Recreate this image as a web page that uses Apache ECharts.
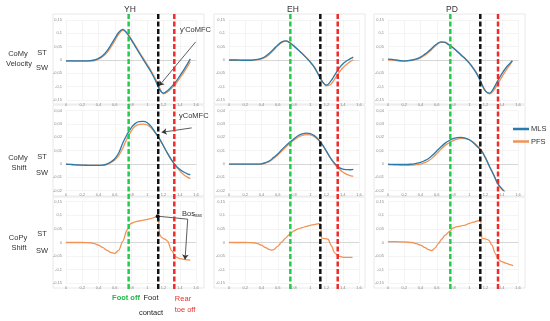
<!DOCTYPE html>
<html><head><meta charset="utf-8">
<script src="https://cdn.jsdelivr.net/npm/echarts@6/dist/echarts.min.js"></script>
<style>html,body{margin:0;padding:0;background:#fff}#c{width:550px;height:321px}</style>
</head><body><div id="c"></div>
<script>
// ---- data ----
const columns = ['YH', 'EH', 'PD'];
const rowNames = [['CoMy', 'Velocity'], ['CoMy', 'Shift'], ['CoPy', 'Shift']];
const xTicks = [0, 0.2, 0.4, 0.6, 0.8, 1, 1.2, 1.4, 1.6];

const tVel = [0,0.05,0.1,0.15,0.2,0.25,0.3,0.35,0.4,0.45,0.5,0.55,0.6,0.65,0.7,0.75,0.8,0.85,0.9,0.95,1.0,1.05,1.1,1.15,1.2,1.25,1.3,1.35,1.4,1.45,1.5,1.53];
const tPDShift = [0,0.05,0.1,0.15,0.2,0.25,0.3,0.35,0.4,0.45,0.5,0.55,0.6,0.65,0.7,0.75,0.8,0.85,0.9,0.95,1.0,1.05,1.1,1.15,1.2,1.25,1.3,1.35,1.4,1.44];

// CoMy velocity
const yhVelMLS = [-0.003,-0.003,-0.003,-0.003,-0.003,-0.003,-0.002,0.0,0.006,0.016,0.032,0.055,0.08,0.104,0.115,0.1,0.077,0.052,0.027,0.002,-0.022,-0.047,-0.076,-0.11,-0.124,-0.115,-0.1,-0.082,-0.06,-0.037,-0.012,0.004];
const yhVelPFS = [-0.004,-0.004,-0.004,-0.004,-0.004,-0.004,-0.004,-0.002,0.003,0.012,0.026,0.047,0.072,0.097,0.111,0.102,0.08,0.056,0.031,0.007,-0.017,-0.042,-0.07,-0.103,-0.127,-0.12,-0.106,-0.09,-0.068,-0.046,-0.022,-0.006];
const ehVelMLS = [0,0,0,-0.001,-0.001,-0.001,0,0.002,0.006,0.014,0.026,0.041,0.056,0.068,0.072,0.064,0.052,0.038,0.024,0.009,-0.008,-0.028,-0.055,-0.082,-0.094,-0.08,-0.057,-0.033,-0.015,-0.003,0.006,0.011];
const ehVelPFS = [-0.001,-0.001,-0.001,-0.001,-0.001,-0.001,-0.001,0.001,0.004,0.011,0.022,0.037,0.053,0.066,0.071,0.065,0.053,0.039,0.025,0.01,-0.006,-0.026,-0.052,-0.08,-0.097,-0.092,-0.072,-0.048,-0.03,-0.016,-0.005,0.001];
const pdVelMLS = [0.003,0.002,0,-0.002,-0.003,-0.002,0,0.004,0.011,0.021,0.033,0.047,0.06,0.068,0.066,0.056,0.046,0.032,0.018,0.005,-0.012,-0.032,-0.056,-0.088,-0.117,-0.124,-0.106,-0.078,-0.052,-0.03,-0.013,-0.003];
const pdVelPFS = [0.001,0,-0.002,-0.004,-0.004,-0.003,-0.001,0.002,0.008,0.017,0.029,0.043,0.057,0.066,0.067,0.059,0.047,0.034,0.02,0.006,-0.01,-0.03,-0.054,-0.086,-0.116,-0.127,-0.115,-0.09,-0.064,-0.04,-0.018,-0.003];

// CoMy shift
const yhShiftMLS = [0,-0.0002,-0.0005,-0.0007,-0.0008,-0.0009,-0.001,-0.001,-0.001,-0.0008,0,0.0015,0.004,0.0085,0.016,0.022,0.027,0.0303,0.0318,0.032,0.031,0.028,0.0235,0.019,0.0135,0.008,0.003,-0.001,-0.004,-0.006,-0.0075,-0.008];
const yhShiftPFS = [0,-0.0003,-0.0006,-0.0008,-0.0009,-0.001,-0.001,-0.001,-0.001,-0.001,-0.0005,0.001,0.003,0.0065,0.012,0.019,0.0245,0.0283,0.0298,0.030,0.0293,0.027,0.0232,0.0187,0.0135,0.008,0.003,-0.0015,-0.005,-0.008,-0.010,-0.011];
const ehShiftMLS = [0,0,0,0,0,0,0,0,0.0002,0.001,0.0025,0.005,0.0075,0.0108,0.0138,0.0165,0.019,0.0212,0.0226,0.0232,0.0228,0.0213,0.0185,0.0145,0.0095,0.0045,0.0005,-0.0025,-0.0038,-0.0042,-0.0043,-0.004];
const ehShiftPFS = [0,0,0,0,0,0,0,0,0,0.0008,0.002,0.0042,0.0068,0.0098,0.0127,0.0155,0.018,0.0201,0.0214,0.022,0.0218,0.0205,0.018,0.0142,0.0095,0.0045,0,-0.0035,-0.006,-0.0078,-0.0088,-0.009];
const pdShiftMLS = [0,-0.0002,-0.0003,-0.0003,-0.0003,-0.0002,0,0.0005,0.0012,0.0025,0.0042,0.0068,0.0098,0.0128,0.0155,0.0175,0.019,0.0198,0.02,0.0195,0.0182,0.016,0.013,0.0098,0.0045,-0.002,-0.008,-0.0145,-0.0185,-0.021];
const pdShiftPFS = [-0.0005,-0.0007,-0.0008,-0.0009,-0.001,-0.001,-0.0008,-0.0005,0,0.001,0.0025,0.0048,0.0078,0.011,0.0138,0.0158,0.0176,0.0187,0.0192,0.0191,0.0182,0.0163,0.0136,0.0102,0.0048,-0.0018,-0.008,-0.0148,-0.0188,-0.0212];

// CoPy shift (PFS only)
const tYHCop = [0,0.1,0.2,0.3,0.35,0.4,0.45,0.5,0.55,0.6,0.65,0.7,0.75,0.8,0.85,0.9,0.95,1.0,1.05,1.1,1.14,1.15,1.18,1.22,1.25,1.3,1.35,1.4,1.45,1.5,1.53];
const yhCopPFS = [0,0,0,-0.001,-0.004,-0.01,-0.018,-0.028,-0.036,-0.04,-0.028,0.005,0.045,0.07,0.076,0.079,0.082,0.085,0.089,0.093,0.096,0.03,0.018,0.012,0.005,-0.03,-0.053,-0.059,-0.062,-0.064,-0.065];
const tEHCop = [0,0.1,0.2,0.3,0.35,0.4,0.45,0.5,0.525,0.55,0.6,0.65,0.7,0.75,0.8,0.85,0.9,0.95,1.0,1.05,1.1,1.125,1.14,1.18,1.22,1.26,1.3,1.35,1.4,1.45,1.52];
const ehCopPFS = [0,0,0,-0.001,-0.004,-0.01,-0.019,-0.026,-0.028,-0.026,-0.014,0.002,0.017,0.031,0.043,0.05,0.055,0.059,0.063,0.066,0.069,0.069,0.016,0.014,0.012,-0.012,-0.038,-0.05,-0.054,-0.055,-0.055];
const tPDCop = [0,0.1,0.2,0.3,0.35,0.4,0.45,0.5,0.54,0.58,0.62,0.66,0.7,0.765,0.8,0.85,0.9,0.95,1.0,1.05,1.1,1.14,1.156,1.2,1.24,1.28,1.32,1.354,1.4,1.45,1.5,1.54];
const pdCopPFS = [0.003,0.003,0.002,0,-0.004,-0.01,-0.018,-0.026,-0.03,-0.02,-0.004,0.012,0.026,0.043,0.054,0.058,0.061,0.064,0.07,0.075,0.079,0.082,0.015,0.013,0.009,-0.01,-0.04,-0.062,-0.07,-0.076,-0.081,-0.085];

// gait events (x position of dashed lines, per column)
const footOff     = [0.771, 0.755, 0.767];
const footContact = [1.135, 1.124, 1.136];
const rearToeOff  = [1.333, 1.338, 1.354];

// annotation anchor points (data coordinates, column YH)
const arrowVel   = [[1.596, 0.068], [1.145, -0.097]];
const arrowShift = [[1.547, 0.0271], [1.178, 0.0238]];
const bosPath    = [[1.129, 0.0967], [1.498, 0.0857], [1.465, -0.0625]];

// ---- layout ----
const colLeft = [66, 229, 388];
const plotW = 130;
const rowTop = [20, 110.7, 201.7];
const rowH = [80, 80, 81.6];
const yCfg = [
  {min: -0.15, max: 0.15, interval: 0.05},
  {min: -0.02, max: 0.04, interval: 0.01},
  {min: -0.15, max: 0.15, interval: 0.05}
];
const BLUE = '#2a7aaa', ORANGE = '#f39254';

const fmt = v => String(Math.round(v * 1000) / 1000).replace('.', ',');
const zip = (xs, ys) => xs.map((x, i) => [x, ys[i]]);

const mlsData = [[yhVelMLS, ehVelMLS, pdVelMLS], [yhShiftMLS, ehShiftMLS, pdShiftMLS], null];
const pfsData = [[yhVelPFS, ehVelPFS, pdVelPFS], [yhShiftPFS, ehShiftPFS, pdShiftPFS], [yhCopPFS, ehCopPFS, pdCopPFS]];
const tData = [[tVel, tVel, tVel], [tVel, tVel, tPDShift], [tYHCop, tEHCop, tPDCop]];

const grid = [], xAxis = [], yAxis = [], series = [];
for (let r = 0; r < 3; r++) {
  for (let c = 0; c < 3; c++) {
    const gi = grid.length;
    grid.push({left: colLeft[c], top: rowTop[r], width: plotW, height: rowH[r]});
    xAxis.push({
      type: 'value', gridIndex: gi, min: 0, max: 1.6, interval: 0.2,
      axisLine: {onZero: true, lineStyle: {color: '#cfcfcf', width: 0.8}},
      axisTick: {show: false},
      axisLabel: {fontSize: 4, color: '#8a8a8a', margin: 2.5, formatter: fmt, fontFamily: 'Liberation Sans'},
      splitLine: {show: true, lineStyle: {color: '#ececec', width: 0.6}}
    });
    yAxis.push({
      type: 'value', gridIndex: gi, min: yCfg[r].min, max: yCfg[r].max, interval: yCfg[r].interval,
      axisLine: {show: false}, axisTick: {show: false},
      axisLabel: {fontSize: 4, color: '#8a8a8a', margin: 4, formatter: fmt, fontFamily: 'Liberation Sans'},
      splitLine: {show: true, lineStyle: {color: '#ececec', width: 0.6}}
    });
    if (mlsData[r]) {
      series.push({
        name: 'MLS', type: 'line', xAxisIndex: gi, yAxisIndex: gi, showSymbol: false, symbol: 'none',
        smooth: 0.4, data: zip(tData[r][c], mlsData[r][c]),
        lineStyle: {color: BLUE, width: 1.3}, itemStyle: {color: BLUE}, z: 3
      });
    }
    const pfs = {
      name: 'PFS', type: 'line', xAxisIndex: gi, yAxisIndex: gi, showSymbol: false, symbol: 'none',
      smooth: r === 2 ? 0.3 : 0.4, smoothMonotone: r === 2 ? 'x' : undefined,
      data: zip(tData[r][c], pfsData[r][c]),
      lineStyle: {color: ORANGE, width: 1.3}, itemStyle: {color: ORANGE}, z: 2
    };
    const ml = (a, b, arrow) => [
      {coord: a, symbol: 'none'},
      {coord: b, symbol: arrow ? 'arrow' : 'none', symbolSize: 5}
    ];
    if (c === 0 && r === 0) {
      pfs.markLine = {silent: true, animation: false, label: {show: false}, lineStyle: {color: '#333', width: 0.8, type: 'solid'},
        data: [ml(arrowVel[0], arrowVel[1], true)]};
    }
    if (c === 0 && r === 1) {
      pfs.markLine = {silent: true, animation: false, label: {show: false}, lineStyle: {color: '#333', width: 0.8, type: 'solid'},
        data: [ml(arrowShift[0], arrowShift[1], true)]};
    }
    if (c === 0 && r === 2) {
      pfs.markLine = {silent: true, animation: false, label: {show: false}, lineStyle: {color: '#333', width: 0.8, type: 'solid'},
        data: [ml(bosPath[0], bosPath[1], false), ml(bosPath[1], bosPath[2], true)]};
      pfs.markPoint = {silent: true, animation: false, symbol: 'circle', symbolSize: 4, itemStyle: {color: '#111'}, label: {show: false},
        data: [{coord: bosPath[0]}]};
    }
    series.push(pfs);
  }
}
// overlay grids for the gait-event lines (span all three rows)
for (let c = 0; c < 3; c++) {
  const gi = grid.length;
  grid.push({left: colLeft[c], top: 14, width: plotW, height: 275});
  xAxis.push({type: 'value', gridIndex: gi, min: 0, max: 1.6, show: false});
  yAxis.push({type: 'value', gridIndex: gi, min: 0, max: 1, show: false});
  [[footOff[c], '#22cc4a'], [footContact[c], '#111111'], [rearToeOff[c], '#ee2a2a']].forEach(([v, col]) => {
    series.push({
      name: 'event', type: 'line', xAxisIndex: gi, yAxisIndex: gi, symbol: 'none', silent: true,
      data: [[v, 0], [v, 1]], lineStyle: {color: col, width: 2.5, type: [5, 2.5]}, z: 6
    });
  });
}

const T = (text, x, y, opt = {}) => ({
  type: 'text', x, y, z: 10, silent: true,
  style: Object.assign({text, fill: '#333', font: '7.5px "Liberation Sans", Arial, sans-serif',
    textAlign: 'center', textVerticalAlign: 'middle', align: 'center', verticalAlign: 'middle'}, opt)
});
const graphic = [];
const boxX = [53, 214, 374], boxY = [14, 105, 197], boxH = [90, 91, 91];
for (let r = 0; r < 3; r++) for (let c = 0; c < 3; c++) {
  graphic.push({type: 'rect', silent: true, z: -1, shape: {x: boxX[c], y: boxY[r], width: 151, height: boxH[r]},
    style: {fill: 'none', stroke: '#e2e2e2', lineWidth: 0.8}});
}
graphic.push(T(columns[0], 130, 10, {font: '8.5px "Liberation Sans", Arial'}));
graphic.push(T(columns[1], 293, 10, {font: '8.5px "Liberation Sans", Arial'}));
graphic.push(T(columns[2], 452, 10, {font: '8.5px "Liberation Sans", Arial'}));
const labY = [[54, 64, 53, 68], [158, 168, 157, 173], [238, 248, 234, 251]];
for (let r = 0; r < 3; r++) {
  graphic.push(T(rowNames[r][0], 18, labY[r][0]));
  graphic.push(T(rowNames[r][1], 19, labY[r][1]));
  graphic.push(T('ST', 42, labY[r][2]));
  graphic.push(T('SW', 42, labY[r][3]));
}
graphic.push(T("y'CoMFC", 180, 30, {textAlign: 'left', align: 'left'}));
graphic.push(T('yCoMFC', 179, 116, {textAlign: 'left', align: 'left'}));
graphic.push(T('Bos', 182, 214, {textAlign: 'left', align: 'left'}));
graphic.push(T('max', 193.5, 216, {textAlign: 'left', align: 'left', font: '4.5px "Liberation Sans", Arial'}));
graphic.push(T('Foot off', 126, 297.5, {fill: '#1fb84a', font: 'bold 7.5px "Liberation Sans", Arial'}));
graphic.push(T('Foot', 151, 297.5, {fill: '#222'}));
graphic.push(T('contact', 151, 313, {fill: '#222'}));
graphic.push(T('Rear', 183, 299, {fill: '#e8302e'}));
graphic.push(T('toe off', 185, 309.5, {fill: '#e8302e'}));

const option = {
  animation: false,
  grid, xAxis, yAxis, series, graphic,
  legend: {
    data: ['MLS', 'PFS'], orient: 'vertical', left: 513, top: 125, padding: 0,
    icon: 'rect', itemWidth: 16, itemHeight: 2.5, itemGap: 4.5,
    textStyle: {fontSize: 7.5, color: '#333', padding: [0, 0, 0, -3], fontFamily: 'Liberation Sans'}
  }
};
const chart = echarts.init(document.getElementById('c'), null, {renderer: 'canvas'});
chart.setOption(option);
</script>
</body></html>
